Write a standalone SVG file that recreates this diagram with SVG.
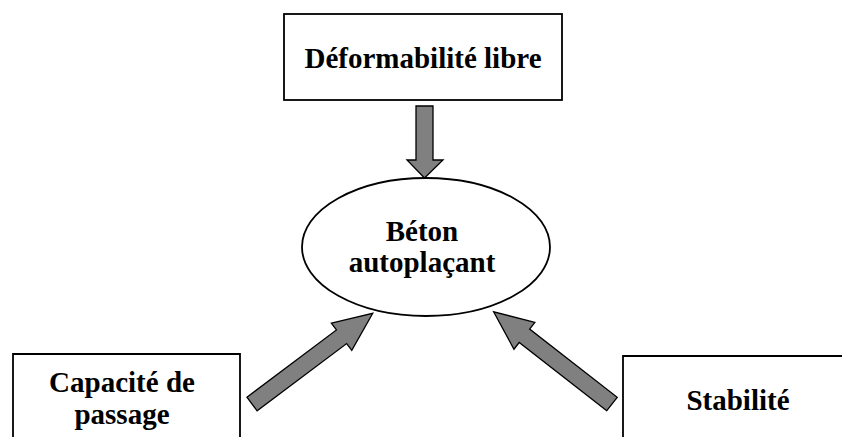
<svg xmlns="http://www.w3.org/2000/svg" width="842" height="437" viewBox="0 0 842 437">
  <defs>
    <style>
      .box { fill: #ffffff; stroke: #000000; stroke-width: 1.8; }
      .arrow { fill: #808080; stroke: #000000; stroke-width: 1.3; stroke-linejoin: miter; }
      .label { font-family: "Liberation Serif", "Times New Roman", serif; font-weight: bold; font-size: 29px; fill: #000000; text-anchor: middle; }
    </style>
  </defs>
  <rect width="842" height="437" fill="#ffffff"/>

  <g id="connectors">
    <polygon class="arrow" points="416,106 433,106 433,160 443,160 424.5,178 407,160 416,160"/>
    <g transform="translate(252,404) rotate(-36.9)">
      <polygon class="arrow" points="0,-8.5 112,-8.5 112,-17 151,0 112,17 112,8.5 0,8.5"/>
    </g>
    <g transform="translate(612,404) rotate(-142.1)">
      <polygon class="arrow" points="0,-8.5 111,-8.5 111,-17 150,0 111,17 111,8.5 0,8.5"/>
    </g>
  </g>

  <g id="node-deformabilite">
    <rect class="box" x="284" y="14" width="278" height="86"/>
    <text class="label" x="423" y="68">Déformabilité libre</text>
  </g>

  <g id="node-beton">
    <ellipse class="box" cx="426" cy="247" rx="124" ry="69"/>
    <text class="label" x="422" y="241">Béton</text>
    <text class="label" x="422" y="272">autoplaçant</text>
  </g>

  <g id="node-capacite">
    <path class="box" d="M13,440 L13,354 L240,354 L240,440"/>
    <text class="label" x="122" y="392">Capacité de</text>
    <text class="label" x="122" y="424">passage</text>
  </g>

  <g id="node-stabilite">
    <path class="box" d="M623,440 L623,356 L845,356"/>
    <text class="label" x="738" y="410">Stabilité</text>
  </g>
</svg>
